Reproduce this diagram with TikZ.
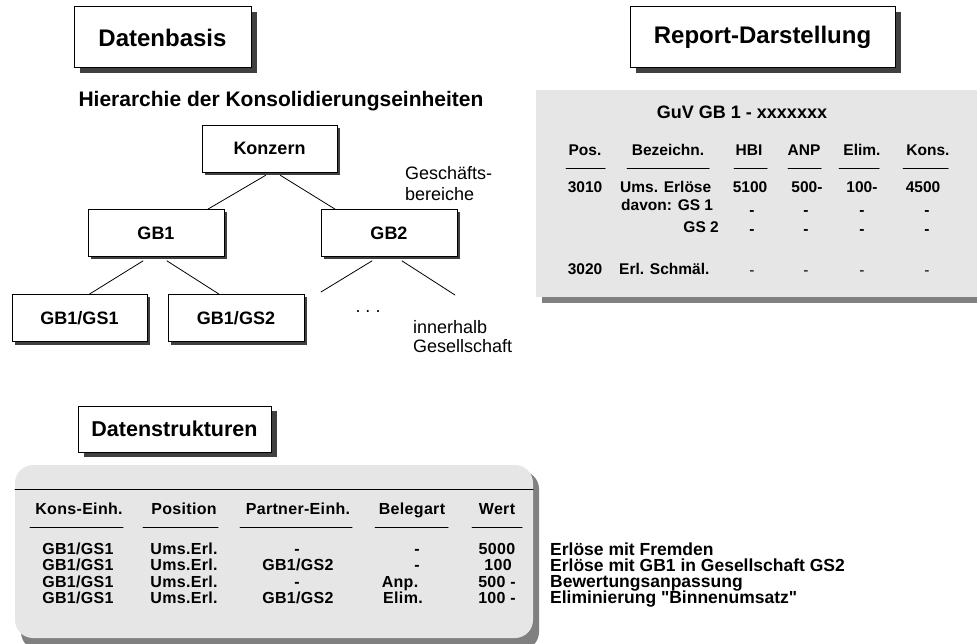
\documentclass[tikz,border=0pt]{standalone}
\usepackage{fontspec}
\setmainfont{Liberation Sans}
\newfontfamily\gerade{Liberation Sans}
\usetikzlibrary{shadows}
\definecolor{panel}{RGB}{230,230,230}
\definecolor{schatten}{RGB}{64,64,64}
\definecolor{panelschatten}{RGB}{128,128,128}
\newcommand{\fs}[1]{\fontsize{#1}{#1}\selectfont}

\begin{document}
\begin{tikzpicture}[x=1pt,y=-1pt,line cap=round]
	\tikzstyle{titel}=[draw,fill=white,line width=1pt,inner sep=0pt,font=\fs{24}\bfseries,drop shadow={shadow xshift=6pt,shadow yshift=-5pt,fill=schatten,opacity=1}];
	\tikzstyle{einheit}=[draw,fill=white,line width=.8pt,inner sep=0pt,minimum width=136pt,minimum height=47pt,font=\fs{18}\bfseries,drop shadow={shadow xshift=3pt,shadow yshift=-3pt,fill=schatten,opacity=1}];
	\tikzstyle{kante}=[line width=.8pt];
	\tikzstyle{kopf}=[inner sep=0pt,anchor=mid,font=\fs{15.5}\bfseries];
	\tikzstyle{zelle}=[kopf];
	\tikzstyle{zelleB}=[inner sep=0pt,anchor=mid,font=\fs{16}\bfseries\addfontfeature{LetterSpace=2}];
	\tikzstyle{notiz}=[inner sep=0pt,anchor=mid west,font=\fs{18}];
	\tikzstyle{erklaer}=[inner sep=0pt,anchor=mid west,font=\fs{17.5}\bfseries];
%<--------------------------------------------------------------------------->%
	\useasboundingbox (0,0) rectangle (977,644);

	%% Datenbasis
	\node[titel,minimum width=177pt,minimum height=61pt] (basis) at (162.5,37.5) {Datenbasis};
	\node[inner sep=0pt,font=\fs{21}\bfseries] (hier) at (281,101) {Hierarchie der Konsolidierungseinheiten};
	\node[einheit,minimum width=135pt] (konzern) at (269.5,148.5) {Konzern};
	\node[einheit] (gb1) at (156,233) {GB1};
	\node[einheit] (gb2) at (389,233) {GB2};
	\node[einheit,minimum width=135pt] (gs1) at (79.5,318) {GB1/GS1};
	\node[einheit] (gs2) at (236,318) {GB1/GS2};
	\coordinate (gb2l) at (321,292);
	\coordinate (gb2r) at (455,295);
	\draw[kante] ([xshift=-4pt,yshift=-3pt]konzern.south) -- ([xshift=52pt]gb1.north);
	\draw[kante] ([xshift=11pt,yshift=-3pt]konzern.south) -- ([xshift=-54pt]gb2.north);
	\draw[kante] ([xshift=-13pt,yshift=-4pt]gb1.south) -- ([xshift=10pt]gs1.north);
	\draw[kante] ([xshift=11pt,yshift=-4pt]gb1.south) -- ([xshift=-17pt]gs2.north);
	\draw[kante] ([xshift=-17pt,yshift=-4pt]gb2.south) -- (gb2l);
	\draw[kante] ([xshift=13pt,yshift=-4pt]gb2.south) -- (gb2r);
	\node[notiz] (gesch) at (405,177) {Geschäfts-};
	\node[notiz] (bereiche) at (405,198) {bereiche};
	\node[notiz,anchor=mid] (punkte) at (368,310) {.\ .\ .};
	\node[notiz] (innerhalb) at (413,331) {innerhalb};
	\node[notiz] (gesellschaft) at (413,350) {Gesellschaft};

	%% Report
	\node[titel,minimum width=265pt,minimum height=61pt] (report) at (762.5,37.5) {Report-Darstellung};
	\fill[panelschatten] (542,96) rectangle (977,303);
	\fill[panel] (536,90) rectangle (977,297);
	\node[kopf,font=\fs{18}\bfseries] (guv) at (742,116) {GuV GB 1 - xxxxxxx};
	\foreach \name/\x/\txt in {pos/585/Pos.,bez/668/Bezeichn.,hbi/749/HBI,anp/804/ANP,elim/862/Elim.,kons/928/Kons.}
		\node[kopf] (\name) at (\x,153) {\txt};
	\foreach \a/\b in {566/605,627/709,734/767,788/821,839/879,903/948}
		\draw[line width=1pt] (\a,169) -- (\b,169);
	\node[zelle] (p3010) at (585,190) {3010};
	\node[zelle,anchor=mid west] (ums) at (620,190) {Ums. Erlöse};
	\node[zelle] (hbi1) at (750,190) {5100};
	\node[zelle] (anp1) at (807,190) {500-};
	\node[zelle] (elim1) at (862,190) {100-};
	\node[zelle] (kons1) at (923,190) {4500};
	\node[zelle,anchor=mid west] (davon) at (621,208) {davon: GS 1};
	\node[zelle,anchor=mid east] (gsz) at (719,230) {GS 2};
	\node[zelle] (p3020) at (585,272) {3020};
	\node[zelle,anchor=mid west] (schmael) at (619,272) {Erl. Schmäl.};
	\foreach \x [count=\i] in {752,806,862,927} {
		\node[zelle] (gsa\i) at (\x,213) {-};
		\node[zelle] (gsb\i) at (\x,232) {-};
		\node[zelle,font=\fs{15.5}] (erl\i) at (\x,273) {-};
	}

	%% Datenstrukturen
	\node[titel,font=\fs{21.5}\bfseries,minimum width=193pt,minimum height=46pt] (struktur) at (174.5,429) {Datenstrukturen};
	\fill[panelschatten,rounded corners=18pt] (21,471) rectangle (539,650);
	\fill[panel,rounded corners=18pt] (15,465) rectangle (533,638);
	\draw[line width=1pt] (15,489) -- (533,489);
	\foreach \name/\x/\txt in {ke/79/Kons-Einh.,posi/184/Position,pe/298/Partner-Einh.,bel/412/Belegart,wert/497/Wert}
		\node[zelleB] (\name) at (\x,512) {\txt};
	\foreach \a/\b in {30/123,143/218,240/352,375/448,472/522}
		\draw[line width=1pt] (\a,527) -- (\b,527);
	\foreach \i/\y in {1/552,2/568,3/585,4/601} {
		\node[zelleB] (ke\i) at (78,\y) {GB1/GS1};
		\node[zelleB] (posi\i) at (184,\y) {Ums.Erl.};
	}
	\node[zelleB] (pe1) at (297,552) {-};
	\node[zelleB] (pe2) at (298,568) {GB1/GS2};
	\node[zelleB] (pe3) at (297,585) {-};
	\node[zelleB] (pe4) at (298,601) {GB1/GS2};
	\node[zelleB] (bel1) at (417,552) {-};
	\node[zelleB] (bel2) at (417,568) {-};
	\node[zelleB] (bel3) at (400,585) {Anp.};
	\node[zelleB] (bel4) at (403,601) {Elim.};
	\node[zelleB] (w1) at (497,552) {5000};
	\node[zelleB] (w2) at (498,568) {100};
	\node[zelleB] (w3) at (497,585) {500 -};
	\node[zelleB] (w4) at (497,601) {100 -};
	\node[erklaer] (t1) at (550,553) {Erlöse mit Fremden};
	\node[erklaer] (t2) at (550,569) {Erlöse mit GB1 in Gesellschaft GS2};
	\node[erklaer] (t3) at (550,585) {Bewertungsanpassung};
	\node[erklaer] (t4) at (550,601) {Eliminierung {\gerade"}Binnenumsatz{\gerade"}};
\end{tikzpicture}
\end{document}
